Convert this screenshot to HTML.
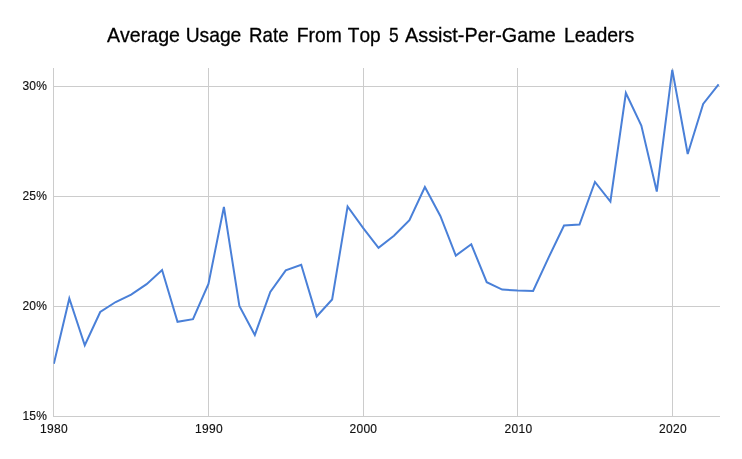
<!DOCTYPE html>
<html><head><meta charset="utf-8"><style>
html,body{margin:0;padding:0;background:#fff;}
svg{display:block;will-change:transform;}
text{font-family:"Liberation Sans",sans-serif;}
</style></head><body>
<svg width="742" height="459" viewBox="0 0 742 459">
<rect width="742" height="459" fill="#fff"/>
<g font-size="20.8" fill="#000" stroke="#000" stroke-width="0.3" style="font-kerning:none"><text x="107.0" y="41.6" textLength="72.94" lengthAdjust="spacingAndGlyphs">Average</text><text x="185.7" y="41.6" textLength="55.64" lengthAdjust="spacingAndGlyphs">Usage</text><text x="249.1" y="41.6" textLength="39.54" lengthAdjust="spacingAndGlyphs">Rate</text><text x="296.8" y="41.6" textLength="45.02" lengthAdjust="spacingAndGlyphs">From</text><text x="347.8" y="41.6" textLength="32.86" lengthAdjust="spacingAndGlyphs">Top</text><text x="388.9" y="41.6" textLength="9.68" lengthAdjust="spacingAndGlyphs">5</text><text x="405.1" y="41.6" textLength="150.6" lengthAdjust="spacingAndGlyphs">Assist-Per-Game</text><text x="563.9" y="41.6" textLength="70.38" lengthAdjust="spacingAndGlyphs">Leaders</text></g>
<g stroke="#cccccc" stroke-width="1" shape-rendering="crispEdges"><line x1="53.5" y1="86.5" x2="720" y2="86.5"/><line x1="53.5" y1="196.5" x2="720" y2="196.5"/><line x1="53.5" y1="306.5" x2="720" y2="306.5"/><line x1="208.5" y1="68" x2="208.5" y2="416.5"/><line x1="363.5" y1="68" x2="363.5" y2="416.5"/><line x1="517.5" y1="68" x2="517.5" y2="416.5"/><line x1="672.5" y1="68" x2="672.5" y2="416.5"/></g>
<g stroke="#cccccc" stroke-width="1" shape-rendering="crispEdges"><line x1="53.5" y1="68" x2="53.5" y2="417.0"/><line x1="53.5" y1="416.5" x2="720" y2="416.5"/></g>
<defs><clipPath id="c"><rect x="53.5" y="68" width="668.5" height="348.5"/></clipPath></defs>
<polyline clip-path="url(#c)" fill="none" stroke="#4a80d8" stroke-width="2" stroke-linejoin="miter" points="53.85,363.7 69.31,298.5 84.77,345.2 100.23,312 115.69,302 131.15,294.6 146.61,284.2 162.07,270 177.53,321.8 192.99,319.2 208.45,284 223.91,207 239.37,306 254.83,335 270.29,292 285.75,270.3 301.21,264.8 316.67,316.4 332.13,299.5 347.59,206.5 363.05,227.9 378.51,247.8 393.97,235.8 409.43,220.2 424.89,187 440.35,216 455.81,255.6 471.27,244.3 486.73,282.2 502.19,289.6 517.65,290.5 533.11,291 548.57,257.6 564.03,225.5 579.49,224.5 594.95,182 610.41,201.5 625.87,93 641.33,125.5 656.79,191.5 672.25,69.8 687.71,154 703.17,104 718.63,84.3"/>
<g font-size="12" fill="#111" stroke="#111" stroke-width="0.15" letter-spacing="0.3"><text x="47.3" y="89.5" text-anchor="end">30%</text><text x="47.3" y="199.5" text-anchor="end">25%</text><text x="47.3" y="309.5" text-anchor="end">20%</text><text x="47.3" y="419.5" text-anchor="end">15%</text><text x="54" y="433" text-anchor="middle">1980</text><text x="209" y="433" text-anchor="middle">1990</text><text x="363.4" y="433" text-anchor="middle">2000</text><text x="518.5" y="433" text-anchor="middle">2010</text><text x="673" y="433" text-anchor="middle">2020</text></g>
</svg>
</body></html>
